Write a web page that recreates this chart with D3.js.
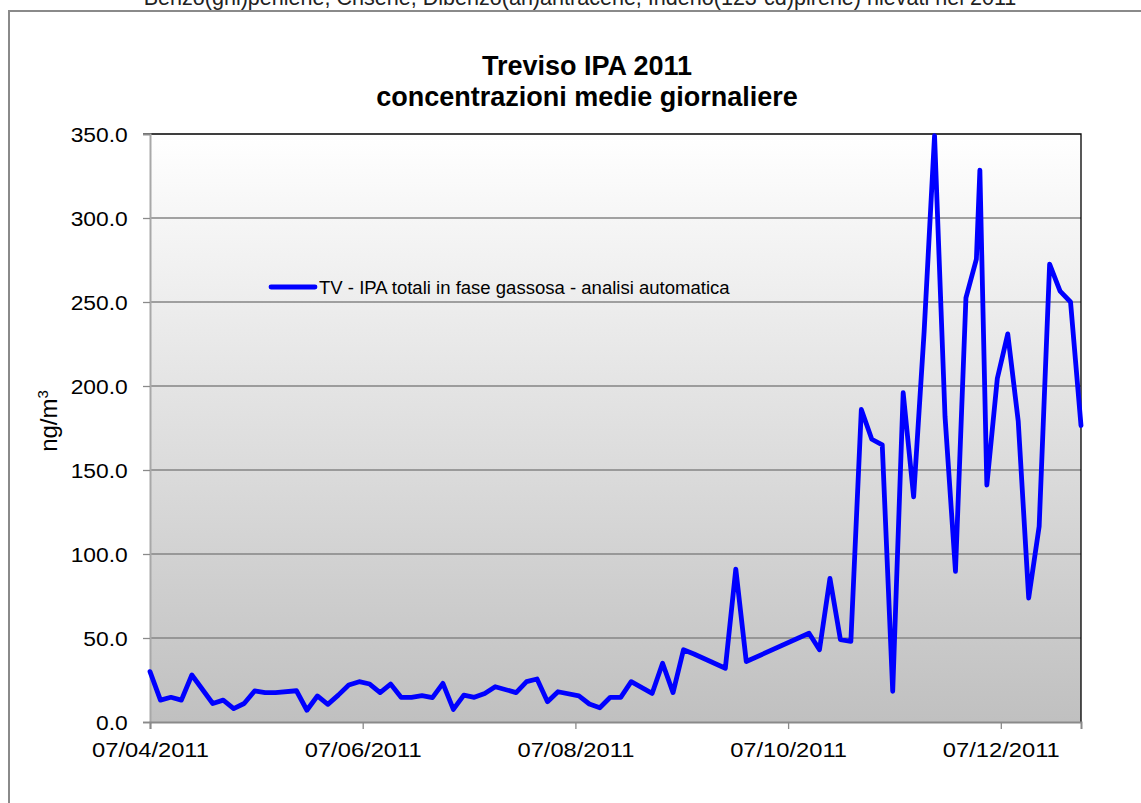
<!DOCTYPE html>
<html>
<head>
<meta charset="utf-8">
<script src="https://cdn.jsdelivr.net/npm/d3@7"></script>
<style>
  body { margin: 0; background: #fff; }
  svg { display: block; }
  text { font-family: "Liberation Sans", Arial, sans-serif; }
</style>
</head>
<body>
<svg id="chart" width="1141" height="803"></svg>
<script>
// Daily mean concentrations (ng/m3), one sample roughly every three days
const sampleDates = [
  "2011-04-07","2011-04-10","2011-04-13","2011-04-16","2011-04-19","2011-04-25","2011-04-28",
  "2011-05-01","2011-05-04","2011-05-07","2011-05-10","2011-05-13","2011-05-19","2011-05-22",
  "2011-05-25","2011-05-28","2011-05-31","2011-06-03","2011-06-06","2011-06-09","2011-06-12",
  "2011-06-15","2011-06-18","2011-06-21","2011-06-24","2011-06-27","2011-06-30","2011-07-03",
  "2011-07-06","2011-07-09","2011-07-12","2011-07-15","2011-07-21","2011-07-24","2011-07-27",
  "2011-07-30","2011-08-02","2011-08-08","2011-08-11","2011-08-14","2011-08-17","2011-08-20",
  "2011-08-23","2011-08-29","2011-09-01","2011-09-04","2011-09-07","2011-09-10","2011-09-19",
  "2011-09-22","2011-09-25","2011-10-13","2011-10-16","2011-10-19","2011-10-22","2011-10-25",
  "2011-10-28","2011-10-31","2011-11-03","2011-11-06","2011-11-09","2011-11-12","2011-11-15",
  "2011-11-18","2011-11-21","2011-11-24","2011-11-27","2011-11-30","2011-12-01","2011-12-03",
  "2011-12-06","2011-12-09","2011-12-12","2011-12-15","2011-12-18","2011-12-21","2011-12-24",
  "2011-12-27","2011-12-30"
];
const ipaValues = [
  30.0, 13.0, 14.7, 13.0, 28.0, 11.0, 13.0,
  8.0, 11.0, 18.5, 17.5, 17.5, 18.6, 7.0,
  15.5, 10.5, 16.0, 22.0, 24.0, 22.6, 17.5,
  22.6, 14.7, 14.7, 15.7, 14.5, 23.0, 7.5,
  16.0, 14.7, 17.0, 21.0, 17.5, 24.0, 25.6,
  12.1, 18.0, 15.5, 10.7, 8.5, 14.7, 14.7,
  24.0, 17.0, 35.0, 17.5, 43.0, 40.5, 32.0,
  91.0, 36.0, 52.8, 43.0, 85.5, 49.0, 48.0,
  186.0, 168.3, 164.9, 18.3, 196.0, 134.0, 232.0,
  349.0, 182.0, 89.7, 252.5, 275.5, 328.5, 141.0,
  204.5, 231.0, 179.0, 73.8, 116.5, 272.5, 256.5,
  250.0, 176.5
];
const yTickValues = [0, 50, 100, 150, 200, 250, 300, 350];
const xTickDates = ["2011-04-07", "2011-06-07", "2011-08-07", "2011-10-07", "2011-12-07"];
const xDomainDates = ["2011-04-07", "2011-12-30"];
const seriesName = "TV - IPA totali in fase gassosa - analisi automatica";
const titleLines = ["Treviso IPA 2011", "concentrazioni medie giornaliere"];
const headerText = "Benzo(ghi)perilene, Crisene, Dibenzo(ah)antracene, Indeno(123-cd)pirene) rilevati nel 2011";
const yLabel = "ng/m";
const yLabelSup = "3";

const parseDay = d3.utcParse("%Y-%m-%d");
const data = sampleDates.map((d, i) => ({ date: parseDay(d), value: ipaValues[i] }));

const svg = d3.select("#chart");
const plot = { left: 150, right: 1081, top: 134, bottom: 722 };

const x = d3.scaleUtc()
  .domain(xDomainDates.map(parseDay))
  .range([plot.left, plot.right]);
const y = d3.scaleLinear()
  .domain([0, 350])
  .range([plot.bottom, plot.top]);

// Outer chart frame
svg.append("rect")
  .attr("x", 9).attr("y", 11)
  .attr("width", 1200).attr("height", 900)
  .attr("fill", "none")
  .attr("stroke", "#8a8a8a")
  .attr("stroke-width", 2);

// Caption line above the frame (continues from the previous page section)
svg.append("text")
  .attr("x", 580).attr("y", 5)
  .attr("text-anchor", "middle")
  .attr("font-size", 22)
  .attr("transform", "translate(580,0) scale(0.98,1) translate(-580,0)")
  .attr("fill", "#222")
  .text(headerText);

// Title
svg.append("text")
  .attr("x", 587).attr("y", 75)
  .attr("text-anchor", "middle")
  .attr("font-size", 27)
  .attr("font-weight", "bold")
  .text(titleLines[0]);
svg.append("text")
  .attr("x", 587).attr("y", 106)
  .attr("text-anchor", "middle")
  .attr("font-size", 27)
  .attr("font-weight", "bold")
  .text(titleLines[1]);

// Plot area background
const defs = svg.append("defs");
const grad = defs.append("linearGradient")
  .attr("id", "plotFill")
  .attr("x1", 0).attr("y1", 0).attr("x2", 0).attr("y2", 1);
grad.append("stop").attr("offset", 0).attr("stop-color", "#ffffff");
grad.append("stop").attr("offset", 1).attr("stop-color", "#c0c0c0");

svg.append("rect")
  .attr("x", plot.left).attr("y", plot.top)
  .attr("width", plot.right - plot.left)
  .attr("height", plot.bottom - plot.top)
  .attr("fill", "url(#plotFill)");

// Horizontal gridlines
svg.append("g")
  .selectAll("line")
  .data(yTickValues.filter(v => v > 0 && v < 350))
  .join("line")
  .attr("x1", plot.left).attr("x2", plot.right)
  .attr("y1", d => y(d)).attr("y2", d => y(d))
  .attr("stroke", "#848484")
  .attr("stroke-width", 1.3);

// Top and right border of the plot area
svg.append("path")
  .attr("d", `M${plot.left - 7},${plot.top}H${plot.right}V${plot.bottom}`)
  .attr("fill", "none")
  .attr("stroke", "#000")
  .attr("stroke-width", 1.3);

// Y axis
const yAxis = svg.append("g")
  .attr("transform", `translate(${plot.left},0)`)
  .call(d3.axisLeft(y).tickValues(yTickValues).tickFormat(d3.format(".1f")).tickSize(7).tickPadding(12));
yAxis.select(".domain").attr("stroke", "#a8a8a8").attr("stroke-width", 2);
yAxis.selectAll(".tick line").attr("stroke", "#8a8a8a").attr("stroke-width", 1.3);
yAxis.selectAll(".tick text")
  .attr("font-size", 19.5)
  .attr("font-family", "Liberation Sans, Arial, sans-serif")
  .attr("fill", "#000")
  .attr("dy", "0.36em")
  .attr("transform", "scale(1.17,1)");

// X axis
const xAxis = svg.append("g")
  .attr("transform", `translate(0,${plot.bottom})`)
  .call(d3.axisBottom(x).tickValues(xTickDates.map(parseDay))
    .tickFormat(d3.utcFormat("%d/%m/%Y")).tickSize(7).tickPadding(8));
xAxis.select(".domain").attr("stroke", "#8a8a8a").attr("stroke-width", 2);
xAxis.selectAll(".tick line").attr("stroke", "#8a8a8a").attr("stroke-width", 1.3);
xAxis.selectAll(".tick text")
  .attr("font-size", 21)
  .attr("font-family", "Liberation Sans, Arial, sans-serif")
  .attr("fill", "#000")
  .attr("y", 34.7).attr("dy", 0)
  .attr("transform", "scale(1.13,1)");

// Y axis label
const yl = svg.append("text")
  .attr("transform", "translate(57,421) rotate(-90)")
  .attr("text-anchor", "middle")
  .attr("font-size", 24);
yl.append("tspan").text(yLabel);
yl.append("tspan").attr("font-size", 15).attr("dy", -9).text(yLabelSup);

// Series line
const line = d3.line()
  .x(d => x(d.date))
  .y(d => y(d.value));

svg.append("path")
  .datum(data)
  .attr("d", line)
  .attr("fill", "none")
  .attr("stroke", "#0000ff")
  .attr("stroke-width", 4.8)
  .attr("stroke-linejoin", "round")
  .attr("stroke-linecap", "round");

// Legend
svg.append("line")
  .attr("x1", 271).attr("x2", 315)
  .attr("y1", 287).attr("y2", 287)
  .attr("stroke", "#0000ff")
  .attr("stroke-width", 4.8)
  .attr("stroke-linecap", "round");
svg.append("text")
  .attr("x", 319).attr("y", 294)
  .attr("font-size", 17.5)
  .attr("transform", "translate(319,0) scale(1.06,1) translate(-319,0)")
  .text(seriesName);
</script>
</body>
</html>
